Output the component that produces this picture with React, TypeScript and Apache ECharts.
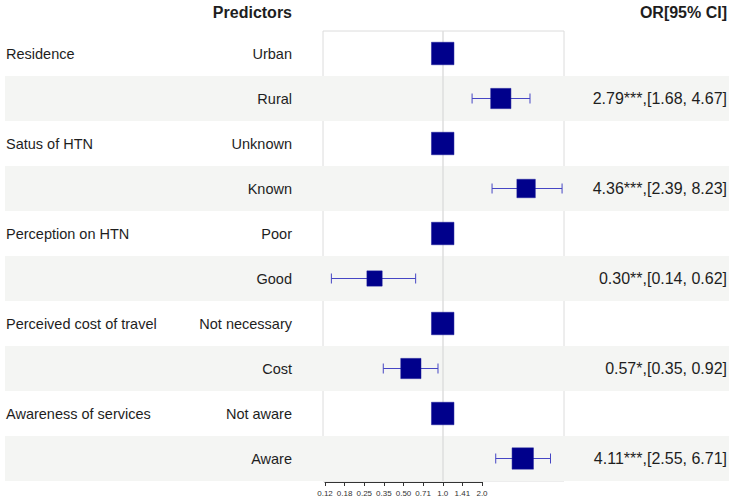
import React, { useEffect, useRef } from "react";
import * as echarts from "echarts";

// ---- data ----
const categories = [
  "Urban", "Rural", "Unknown", "Known", "Poor", "Good",
  "Not necessary", "Cost", "Not aware", "Aware",
];
const groupLabels = [
  "Residence", "", "Satus of HTN", "", "Perception on HTN", "",
  "Perceived cost of travel", "", "Awareness of services", "",
];
const oddsRatios = [1, 2.79, 1, 4.36, 1, 0.3, 1, 0.57, 1, 4.11];
const lowerCI = [null, 1.68, null, 2.39, null, 0.14, null, 0.35, null, 2.55];
const upperCI = [null, 4.67, null, 8.23, null, 0.62, null, 0.92, null, 6.71];
const stars = ["", "***", "", "***", "", "**", "", "*", "", "***"];
const weights = [1, 0.9, 1, 0.82, 1, 0.68, 1, 0.9, 1, 0.95];
const tickLabels = ["0.12", "0.18", "0.25", "0.35", "0.50", "0.71", "1.0", "1.41", "2.0"];

const FONT = "'Liberation Sans', Arial, sans-serif";
const TEXT = "#1e1e1e";

const orLabels = oddsRatios.map((v, i) => {
  const lo = lowerCI[i];
  const hi = upperCI[i];
  if (lo == null || hi == null) return "";
  return `${v.toFixed(2)}${stars[i]},[${lo.toFixed(2)}, ${hi.toFixed(2)}]`;
});

const log2 = (v: number) => Math.log(v) / Math.LN2;

export default function App() {
  const ref = useRef<HTMLDivElement>(null);
  useEffect(() => {
    if (!ref.current) return;
    const chart = echarts.init(ref.current, null, { renderer: "svg" });
    const seriesData = oddsRatios.map((v, i) => [
      log2(v),
      i,
      lowerCI[i] == null ? NaN : log2(lowerCI[i] as number),
      upperCI[i] == null ? NaN : log2(upperCI[i] as number),
      weights[i],
    ]);
    chart.setOption({
      animation: false,
      textStyle: { fontFamily: FONT },
      graphic: [
        {
          type: "text",
          x: 292,
          y: 12,
          style: {
            text: "Predictors",
            font: `bold 16px ${FONT}`,
            fill: TEXT,
            align: "right",
            verticalAlign: "middle",
          },
        },
        {
          type: "text",
          x: 727,
          y: 12,
          style: {
            text: "OR[95% CI]",
            font: `bold 16px ${FONT}`,
            fill: TEXT,
            align: "right",
            verticalAlign: "middle",
          },
        },
      ],
      grid: [
        { left: 5, right: 4, top: 31, height: 450 },
        {
          left: 323, width: 241, top: 31, height: 450,
          show: true, borderColor: "#dcdcdc", borderWidth: 1, backgroundColor: "transparent",
        },
        { left: 325, width: 157, top: 481, height: 1 },
      ],
      xAxis: [
        { gridIndex: 0, type: "value", show: false, min: 0, max: 1 },
        { gridIndex: 1, type: "value", show: false, min: -3.05, max: 3.09 },
        {
          gridIndex: 2, type: "value", min: -3, max: 1, interval: 0.5,
          axisLine: { show: true, lineStyle: { color: "#333", width: 1 } },
          axisTick: { show: true, length: 4, lineStyle: { color: "#333" } },
          splitLine: { show: false },
          axisLabel: {
            fontSize: 8, color: "#333", margin: 7, fontFamily: FONT,
            formatter: (v: number) => tickLabels[Math.round((v + 3) * 2)] ?? "",
          },
        },
      ],
      yAxis: [
        {
          gridIndex: 0, type: "category", data: categories, inverse: true, position: "left",
          axisLine: { show: false }, axisTick: { show: false },
          splitArea: { show: true, areaStyle: { color: ["rgba(0,0,0,0)", "#f4f5f3"] } },
          axisLabel: {
            inside: true, margin: 1, fontSize: 14.5, color: TEXT, fontFamily: FONT,
            formatter: (_: string, i: number) => groupLabels[i],
          },
        },
        {
          gridIndex: 0, type: "category", data: categories, inverse: true, position: "right",
          axisLine: { show: false }, axisTick: { show: false },
          axisLabel: {
            inside: true, margin: 2, fontSize: 16, color: TEXT, fontFamily: FONT,
            formatter: (_: string, i: number) => orLabels[i],
          },
        },
        {
          gridIndex: 1, type: "category", data: categories, inverse: true,
          axisLine: { show: false }, axisTick: { show: false },
          axisLabel: { margin: 31, fontSize: 14.5, color: TEXT, fontFamily: FONT },
        },
        { gridIndex: 2, type: "value", show: false },
      ],
      series: [
        {
          type: "custom",
          xAxisIndex: 1,
          yAxisIndex: 2,
          z: 3,
          encode: { x: 0, y: 1 },
          data: seriesData,
          markLine: {
            silent: true,
            z: 1,
            symbol: "none",
            label: { show: false },
            lineStyle: { color: "#dedede", width: 1.5, type: "solid" },
            data: [{ xAxis: 0 }],
          },
          renderItem: (params: any, api: any) => {
            const x = api.value(0);
            const y = api.value(1);
            const lo = api.value(2);
            const hi = api.value(3);
            const w = api.value(4);
            const c = api.coord([x, y]);
            const size = 22.5 * w;
            const children: any[] = [];
            if (!isNaN(lo) && !isNaN(hi)) {
              const pl = api.coord([lo, y]);
              const ph = api.coord([hi, y]);
              const ls = { stroke: "#4646c4", lineWidth: 1 };
              children.push({ type: "line", shape: { x1: pl[0], y1: c[1], x2: ph[0], y2: c[1] }, style: ls });
              children.push({ type: "line", shape: { x1: pl[0], y1: c[1] - 5, x2: pl[0], y2: c[1] + 5 }, style: ls });
              children.push({ type: "line", shape: { x1: ph[0], y1: c[1] - 5, x2: ph[0], y2: c[1] + 5 }, style: ls });
            }
            children.push({
              type: "rect",
              shape: { x: c[0] - size / 2, y: c[1] - size / 2, width: size, height: size },
              style: { fill: "#00008B", stroke: "#1a1a9a", lineWidth: 0.5 },
            });
            return { type: "group", children };
          },
        },
      ],
    });
    return () => chart.dispose();
  }, []);
  return (
    <div
      ref={ref}
      style={{ position: "absolute", left: 0, top: 0, width: 733, height: 502 }}
    />
  );
}
